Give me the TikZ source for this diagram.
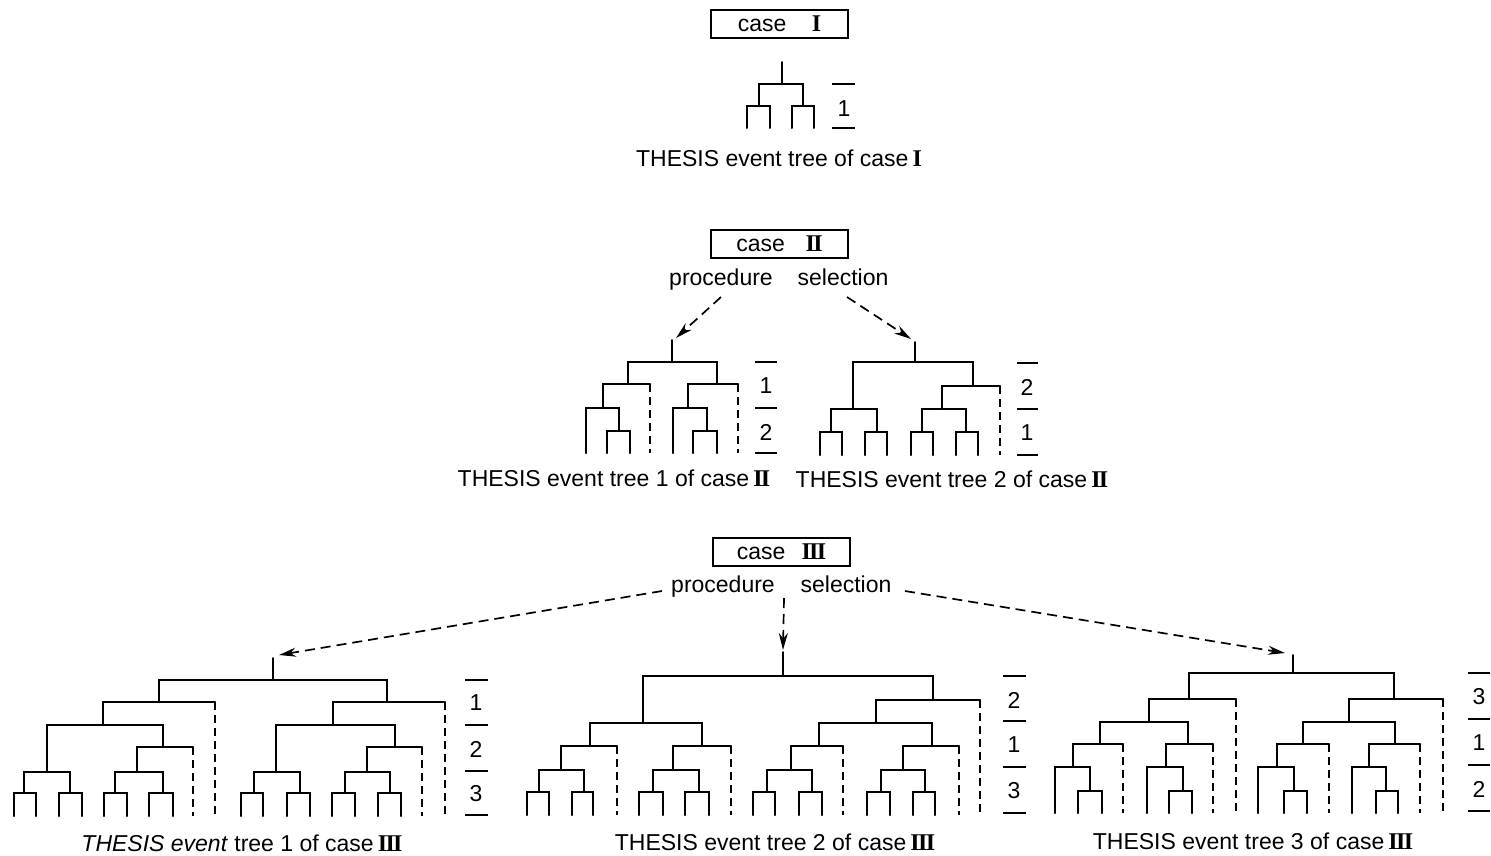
\documentclass[tikz,border=0pt]{standalone}
\usepackage{fontspec}
\setmainfont{Liberation Sans}
\newfontfamily\numfont{Liberation Serif}
\usetikzlibrary{arrows.meta}

% Roman numerals in a bold serif face, set close together
\newcommand\RI{{\numfont\bfseries\fontsize{24}{27}\selectfont I}}
\newcommand\RII{{\numfont\bfseries\fontsize{24}{27}\selectfont I\kern-0.07em I}}
\newcommand\RIII{{\numfont\bfseries\fontsize{24}{27}\selectfont I\kern-0.07em I\kern-0.07em I}}
% narrow gap before a numeral in the captions
\newcommand\numgap{\hspace{0.18em}}

% A branching: bar at height #3 from #1 to #2, left leg down to #4, right leg down to #5
\newcommand\Fork[5]{\draw[treeline] (#1,#4) -- (#1,#3) -- (#2,#3) -- (#2,#5);}
% Same, with the right leg dashed
\newcommand\ForkD[5]{\draw[treeline] (#1,#4) -- (#1,#3) -- (#2,#3); \draw[treeline,dashleg] (#2,#3) -- (#2,#5);}
% Sequence marks: a short rule at height #3 from #1 to #2
\newcommand\Mark[3]{\draw[markline] (#1,#3) -- (#2,#3);}

\tikzset{
  treeline/.style={line width=2pt, line cap=round, line join=miter},
  dashleg/.style={dash pattern=on 8pt off 5pt, line cap=butt},
  markline/.style={line width=1.7pt},
  txt/.style={font=\fontsize{23}{27}\selectfont, inner sep=0pt},
  basetxt/.style={txt, anchor=base},
  casebox/.style={txt, draw, line width=1.6pt, minimum width=137pt, minimum height=28pt},
  selarrow/.style={line width=1.7pt, dash pattern=on 10pt off 6pt, -{Stealth[length=17pt,width=9pt]}},
}

\begin{document}
\begin{tikzpicture}[x=1pt,y=-1pt]
\useasboundingbox (0,0) rectangle (1491,855);

% ---------------- case I ----------------
\node[casebox] (c1) at (779.5,24) {case\hspace{1.1em}\RI};
\draw[treeline] (782,62) -- (782,84);
\Fork{759}{803}{84}{106}{106}
\Fork{747}{770}{106}{128}{128}
\Fork{792}{814}{106}{128}{128}
\Mark{832}{855}{84}\Mark{832}{855}{128}
\node[txt] (n1a) at (844,109) {1};
\node[txt] (t1) at (779,158) {THESIS event tree of case\numgap\RI};

% ---------------- case II ----------------
\node[casebox] (c2) at (779.5,244) {case\hspace{0.9em}\RII};
\node[basetxt] (proc2) at (721,285) {procedure};
\node[basetxt] (sel2) at (843,285) {selection};
\coordinate (p2s) at (721,297);
\coordinate (s2s) at (847,297);
\coordinate (r21) at (676,338);
\coordinate (r22) at (911,339);
\draw[selarrow] (p2s) -- (r21);
\draw[selarrow] (s2s) -- (r22);

% tree 1 of case II
\draw[treeline] (672,340) -- (672,362);
\Fork{628}{717}{362}{384}{384}
\ForkD{603}{650}{384}{408}{453}
\Fork{586}{619}{408}{453}{431}
\Fork{607}{630}{431}{453}{453}
\ForkD{688}{738}{384}{408}{453}
\Fork{673}{707}{408}{453}{431}
\Fork{693}{717}{431}{453}{453}
\Mark{755}{777}{362}\Mark{755}{777}{408}\Mark{755}{777}{453}
\node[txt] (n21a) at (766,386) {1};
\node[txt] (n21b) at (766,432) {2};
\node[txt] (t21) at (614,478) {THESIS event tree 1 of case\numgap\RII};

% tree 2 of case II
\draw[treeline] (915,342) -- (915,362);
\Fork{853}{973}{362}{409}{386}
\ForkD{942}{1000}{386}{409}{455}
\Fork{831}{877}{409}{432}{432}
\Fork{922}{966}{409}{432}{432}
\Fork{820}{842}{432}{455}{455}
\Fork{865}{887}{432}{455}{455}
\Fork{911}{933}{432}{455}{455}
\Fork{956}{978}{432}{455}{455}
\Mark{1017}{1038}{363}\Mark{1017}{1038}{409}\Mark{1017}{1038}{455}
\node[txt] (n22a) at (1027,387) {2};
\node[txt] (n22b) at (1027,433) {1};
\node[txt] (t22) at (952,479) {THESIS event tree 2 of case\numgap\RII};

% ---------------- case III ----------------
\node[casebox] (c3) at (781.5,552) {case\hspace{0.7em}\RIII};
\node[basetxt] (proc3) at (723,592) {procedure};
\node[basetxt] (sel3) at (846,592) {selection};
\coordinate (p3s) at (662,591);
\coordinate (m3s) at (784,598);
\coordinate (s3s) at (905,591);
\coordinate (r31) at (279,655);
\coordinate (r32) at (783,650);
\coordinate (r33) at (1285,653);
\draw[selarrow] (p3s) -- (r31);
\draw[selarrow] (m3s) -- (r32);
\draw[selarrow] (s3s) -- (r33);

% tree 1 of case III
\draw[treeline] (273,658) -- (273,680);
\Fork{159}{387}{680}{702}{702}
\ForkD{103}{215}{702}{725}{816}
\Fork{47}{163}{725}{772}{747}
\ForkD{137}{193}{747}{772}{816}
\Fork{24}{70}{772}{793}{793}
\Fork{115}{163}{772}{793}{793}
\Fork{14}{36}{793}{816}{816}
\Fork{59}{82}{793}{816}{816}
\Fork{104}{127}{793}{816}{816}
\Fork{149}{173}{793}{816}{816}
\ForkD{333}{445}{702}{725}{816}
\Fork{276}{395}{725}{772}{747}
\ForkD{367}{422}{747}{772}{816}
\Fork{254}{300}{772}{793}{793}
\Fork{345}{390}{772}{793}{793}
\Fork{241}{263}{793}{816}{816}
\Fork{287}{310}{793}{816}{816}
\Fork{332}{355}{793}{816}{816}
\Fork{378}{401}{793}{816}{816}
\Mark{465}{488}{680}\Mark{465}{488}{725}\Mark{465}{488}{771}\Mark{465}{488}{815}
\node[txt] (n31a) at (476,703) {1};
\node[txt] (n31b) at (476,749) {2};
\node[txt] (n31c) at (476,794) {3};
\node[txt] (t31) at (242,843) {\textit{THESIS event} tree 1 of case\numgap\RIII};

% tree 2 of case III
\draw[treeline] (783,652) -- (783,676);
\Fork{643}{933}{676}{723}{700}
\Fork{590}{702}{723}{746}{746}
\ForkD{561}{617}{746}{770}{815}
\Fork{539}{584}{770}{792}{792}
\Fork{527}{549}{792}{815}{815}
\Fork{572}{593}{792}{815}{815}
\ForkD{673}{731}{746}{770}{815}
\Fork{653}{699}{770}{792}{792}
\Fork{639}{663}{792}{815}{815}
\Fork{685}{709}{792}{815}{815}
\ForkD{876}{980}{700}{723}{815}
\Fork{819}{932}{723}{746}{746}
\ForkD{791}{843}{746}{770}{815}
\Fork{767}{812}{770}{792}{792}
\Fork{753}{775}{792}{815}{815}
\Fork{799}{822}{792}{815}{815}
\ForkD{903}{959}{746}{770}{815}
\Fork{881}{925}{770}{792}{792}
\Fork{867}{890}{792}{815}{815}
\Fork{913}{935}{792}{815}{815}
\Mark{1003}{1026}{676}\Mark{1003}{1026}{721}\Mark{1003}{1026}{767}\Mark{1003}{1026}{813}
\node[txt] (n32a) at (1014,700) {2};
\node[txt] (n32b) at (1014,745) {1};
\node[txt] (n32c) at (1014,791) {3};
\node[txt] (t32) at (775,842) {THESIS event tree 2 of case\numgap\RIII};

% tree 3 of case III
\draw[treeline] (1293,655) -- (1293,673);
\Fork{1189}{1394}{673}{699}{699}
\ForkD{1149}{1236}{699}{722}{813}
\Fork{1100}{1188}{722}{744}{744}
\ForkD{1073}{1123}{744}{767}{813}
\Fork{1055}{1090}{767}{813}{791}
\Fork{1078}{1102}{791}{813}{813}
\ForkD{1166}{1213}{744}{767}{813}
\Fork{1147}{1183}{767}{813}{791}
\Fork{1169}{1192}{791}{813}{813}
\ForkD{1349}{1443}{699}{722}{813}
\Fork{1303}{1395}{722}{744}{744}
\ForkD{1277}{1329}{744}{767}{813}
\Fork{1258}{1294}{767}{813}{791}
\Fork{1284}{1307}{791}{813}{813}
\ForkD{1369}{1420}{744}{767}{813}
\Fork{1352}{1386}{767}{813}{791}
\Fork{1376}{1398}{791}{813}{813}
\Mark{1468}{1490}{673}\Mark{1468}{1490}{719}\Mark{1468}{1490}{765}\Mark{1468}{1490}{811}
\node[txt] (n33a) at (1479,697) {3};
\node[txt] (n33b) at (1479,743) {1};
\node[txt] (n33c) at (1479,789) {2};
\node[txt] (t33) at (1253,841) {THESIS event tree 3 of case\numgap\RIII};
\end{tikzpicture}
\end{document}
